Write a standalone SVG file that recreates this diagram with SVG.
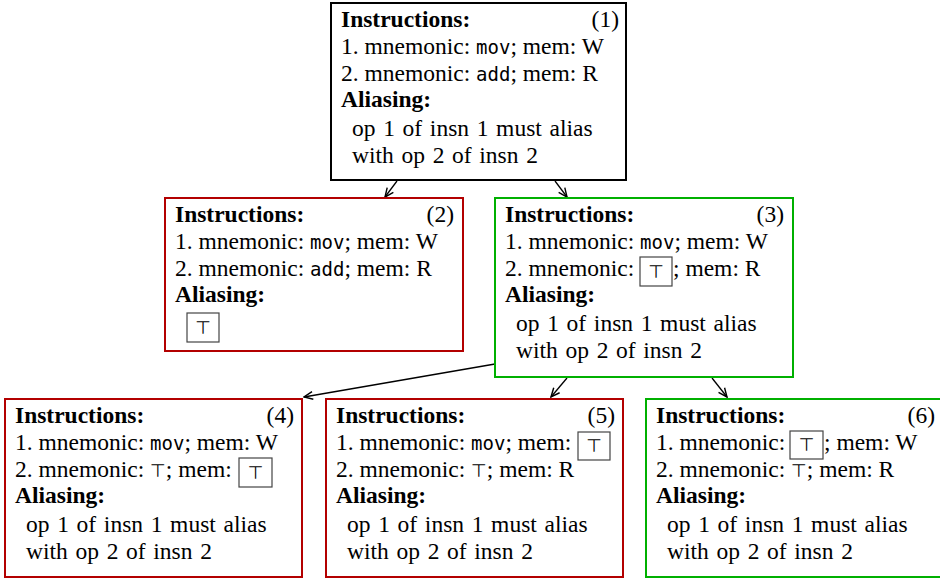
<svg xmlns="http://www.w3.org/2000/svg" width="940" height="580" viewBox="0 0 940 580">
<style>
.box{fill:#fff;stroke-width:2}
.k{stroke:#000}.r{stroke:#b30000}.g{stroke:#00b000}
.t{font-family:"Liberation Serif",serif;font-size:23.5px;fill:#000}
.b{font-weight:bold}
.a{word-spacing:1.8px}
.m{font-family:"DejaVu Sans Mono",monospace;font-size:19px}
.top{font-family:"DejaVu Sans",sans-serif;font-size:18px;fill:#000}
.ib{fill:#fff;stroke:#444;stroke-width:1.2}
.e{text-anchor:end}
.c{text-anchor:middle}
.conn{stroke:#000;stroke-width:1.3;fill:none;marker-end:url(#ah)}
</style>
<defs>
<marker id="ah" viewBox="0 0 10 10" refX="9" refY="5" markerWidth="11" markerHeight="11" markerUnits="userSpaceOnUse" orient="auto">
<path d="M1,1.5 L9,5 L1,8.5" fill="none" stroke="#000" stroke-width="1.3"/>
</marker>
</defs>
<g id="connectors">
<line class="conn" x1="397" y1="181" x2="385" y2="197"/>
<line class="conn" x1="555" y1="181" x2="567" y2="197"/>
<line class="conn" x1="495" y1="364" x2="304" y2="397"/>
<line class="conn" x1="567" y1="378" x2="551" y2="397"/>
<line class="conn" x1="712" y1="378" x2="727" y2="397"/>
</g>
<g id="n1" transform="translate(331,3)">
<rect class="box k" x="0" y="0" width="295" height="177"/>
<text class="t b" x="10" y="24">Instructions:</text>
<text class="t e" x="288" y="24">(1)</text>
<text class="t" x="10" y="51">1. mnemonic: <tspan class="m">mov</tspan>; mem: W</text>
<text class="t" x="10" y="78">2. mnemonic: <tspan class="m">add</tspan>; mem: R</text>
<text class="t b" x="10" y="104">Aliasing:</text>
<text class="t a" x="21" y="133">op 1 of insn 1 must alias</text>
<text class="t a" x="21" y="160">with op 2 of insn 2</text>
</g>
<g id="n2" transform="translate(165,198)">
<rect class="box r" x="0" y="0" width="298" height="153"/>
<text class="t b" x="10" y="24">Instructions:</text>
<text class="t e" x="289" y="24">(2)</text>
<text class="t" x="10" y="51">1. mnemonic: <tspan class="m">mov</tspan>; mem: W</text>
<text class="t" x="10" y="78">2. mnemonic: <tspan class="m">add</tspan>; mem: R</text>
<text class="t b" x="10" y="104">Aliasing:</text>
<rect class="ib" x="22" y="115" width="32" height="29"/>
<text class="top c" x="38" y="136">⊤</text>
</g>
<g id="n3" transform="translate(495,198)">
<rect class="box g" x="0" y="0" width="298" height="179"/>
<text class="t b" x="10" y="24">Instructions:</text>
<text class="t e" x="289" y="24">(3)</text>
<text class="t" x="10" y="51">1. mnemonic: <tspan class="m">mov</tspan>; mem: W</text>
<text class="t" x="10" y="78">2. mnemonic:</text>
<rect class="ib" x="145" y="59" width="32" height="29"/>
<text class="top c" x="161" y="80">⊤</text>
<text class="t" x="178" y="78">; mem: R</text>
<text class="t b" x="10" y="104">Aliasing:</text>
<text class="t a" x="21" y="133">op 1 of insn 1 must alias</text>
<text class="t a" x="21" y="160">with op 2 of insn 2</text>
</g>
<g id="n4" transform="translate(5,399)">
<rect class="box r" x="0" y="0" width="297" height="178"/>
<text class="t b" x="10" y="24">Instructions:</text>
<text class="t e" x="289" y="24">(4)</text>
<text class="t" x="10" y="51">1. mnemonic: <tspan class="m">mov</tspan>; mem: W</text>
<text class="t" x="10" y="78">2. mnemonic: <tspan class="top">⊤</tspan>; mem:</text>
<rect class="ib" x="234" y="59" width="33" height="29"/>
<text class="top c" x="250.5" y="80">⊤</text>
<text class="t b" x="10" y="104">Aliasing:</text>
<text class="t a" x="21" y="133">op 1 of insn 1 must alias</text>
<text class="t a" x="21" y="160">with op 2 of insn 2</text>
</g>
<g id="n5" transform="translate(326,399)">
<rect class="box r" x="0" y="0" width="297" height="178"/>
<text class="t b" x="10" y="24">Instructions:</text>
<text class="t e" x="289" y="24">(5)</text>
<text class="t" x="10" y="51">1. mnemonic: <tspan class="m">mov</tspan>; mem:</text>
<rect class="ib" x="252" y="33" width="32" height="28"/>
<text class="top c" x="268" y="53">⊤</text>
<text class="t" x="10" y="78">2. mnemonic: <tspan class="top">⊤</tspan>; mem: R</text>
<text class="t b" x="10" y="104">Aliasing:</text>
<text class="t a" x="21" y="133">op 1 of insn 1 must alias</text>
<text class="t a" x="21" y="160">with op 2 of insn 2</text>
</g>
<g id="n6" transform="translate(646,399)">
<rect class="box g" x="0" y="0" width="297" height="178"/>
<text class="t b" x="10" y="24">Instructions:</text>
<text class="t e" x="289" y="24">(6)</text>
<text class="t" x="10" y="51">1. mnemonic:</text>
<rect class="ib" x="144" y="32" width="33" height="28"/>
<text class="top c" x="160.5" y="52">⊤</text>
<text class="t" x="178" y="51">; mem: W</text>
<text class="t" x="10" y="78">2. mnemonic: <tspan class="top">⊤</tspan>; mem: R</text>
<text class="t b" x="10" y="104">Aliasing:</text>
<text class="t a" x="21" y="133">op 1 of insn 1 must alias</text>
<text class="t a" x="21" y="160">with op 2 of insn 2</text>
</g>
</svg>
